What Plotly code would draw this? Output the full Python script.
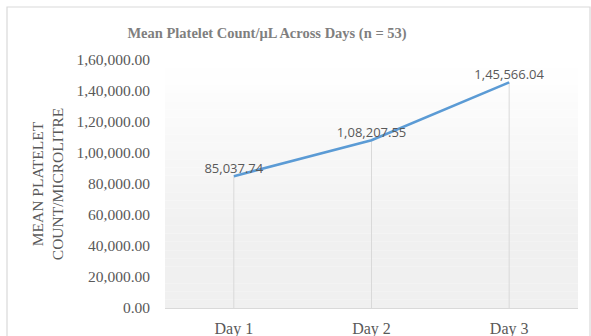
import plotly.graph_objects as go

# ---- data ----
days = ["Day 1", "Day 2", "Day 3"]
mean_platelets = [85037.74, 108207.55, 145566.04]
y_ticks = [0, 20000, 40000, 60000, 80000, 100000, 120000, 140000, 160000]


def indian_format(v):
    s = f"{v:.2f}"
    whole, frac = s.split(".")
    if len(whole) > 3:
        head, tail = whole[:-3], whole[-3:]
        groups = []
        while len(head) > 2:
            groups.insert(0, head[-2:])
            head = head[:-2]
        if head:
            groups.insert(0, head)
        whole = ",".join(groups) + "," + tail
    return whole + "." + frac


y_tick_text = [indian_format(v) for v in y_ticks]
point_labels = [indian_format(v) for v in mean_platelets]

W, H = 591, 336
ML, MR, MT, MB = 165, 13, 60, 28
PW = W - ML - MR
PH = H - MT - MB
SERIF = "Liberation Serif, 'Times New Roman', serif"

fig = go.Figure()

# drop lines from each point to zero
for d, v in zip(days, mean_platelets):
    fig.add_trace(go.Scatter(
        x=[d, d], y=[0, v], mode="lines",
        line=dict(color="#d9d9d9", width=1),
        hoverinfo="skip", showlegend=False,
    ))

fig.add_trace(go.Scatter(
    x=days, y=mean_platelets, mode="lines+text",
    line=dict(color="#5b9bd5", width=2.6),
    text=point_labels, textposition="top center",
    textfont=dict(family="Open Sans, Liberation Sans, sans-serif", size=13, color="#595959"),
    showlegend=False,
))

shapes = []
# gradient plot background
n = 30
for i in range(n):
    t = i / (n - 1)
    c = int(round(255 - (255 - 240) * min(1.0, t * 1.4)))
    shapes.append(dict(
        type="rect", xref="x domain", yref="y domain",
        x0=0, x1=1, y0=1 - (i + 1) / n, y1=1 - i / n,
        fillcolor=f"rgb({c},{c},{c})", line=dict(width=0), layer="below",
    ))
# outer chart border
shapes.append(dict(
    type="rect", xref="paper", yref="paper",
    x0=(7 - ML) / PW, x1=(590 - ML) / PW,
    y0=(H - MB - 345) / PH, y1=(H - MB - 7) / PH,
    line=dict(color="#d9d9d9", width=1.2), fillcolor="rgba(0,0,0,0)", layer="below",
))

fig.update_layout(
    width=W, height=H,
    margin=dict(l=ML, r=MR, t=MT, b=MB, autoexpand=False),
    paper_bgcolor="white", plot_bgcolor="rgba(0,0,0,0)",
    shapes=shapes,
    title=dict(
        text="<b>Mean Platelet Count/μL Across Days (n = 53)</b>",
        x=267 / W, xanchor="center", y=1 - 33 / H, yanchor="middle",
        font=dict(family=SERIF, size=14.5, color="#7f7f7f"),
    ),
    xaxis=dict(
        type="category", range=[-0.5, 2.5], automargin=False,
        showgrid=False, zeroline=False,
        showline=True, linecolor="#d9d9d9", linewidth=1,
        ticks="", ticklabelstandoff=6,
        tickfont=dict(family=SERIF, size=16, color="#595959"),
    ),
    yaxis=dict(
        range=[0, 160000], tickvals=y_ticks, ticktext=y_tick_text, automargin=False,
        showgrid=False, zeroline=False, showline=False, ticks="",
        ticklabelstandoff=14,
        tickfont=dict(family=SERIF, size=15.5, color="#595959"),
        title=dict(
            text="MEAN PLATELET<br>COUNT/MICROLITRE", standoff=8,
            font=dict(family=SERIF, size=15.5, color="#595959"),
        ),
    ),
)

fig.write_html("out.html")
